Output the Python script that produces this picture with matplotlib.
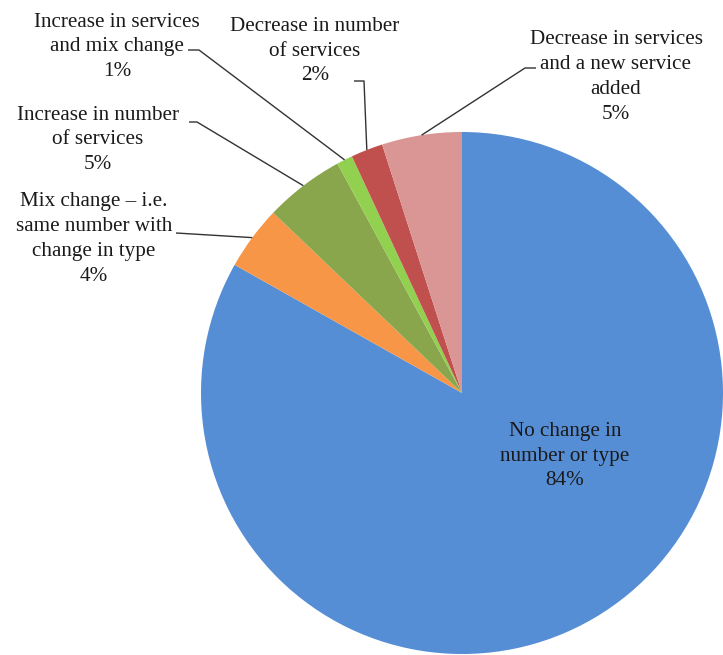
import numpy as np
import matplotlib
matplotlib.use("Agg")
import matplotlib.pyplot as plt

# Share of services by type of change (%)
categories = [
    "No change in\nnumber or type",
    "Mix change \u2013 i.e.\nsame number with\nchange in type",
    "Increase in number\nof services",
    "Increase in services\nand mix change",
    "Decrease in number\nof services",
    "Decrease in services\nand a new service\nadded",
]
shares = [84, 4, 5, 1, 2, 5]
colors = ["#558ED5", "#F79646", "#8AA64C", "#92D050", "#C0504D", "#D99694"]

# label placement (pixel space, y measured from the top) and the elbow of each leader
label_pos = [(565, 456), (94, 239), (98, 140), (117, 47), (315, 51), (616, 77)]
elbows = [None, [(176, 233)], [(189, 122), (197, 122)],
          [(188, 50), (199, 50)], [(354, 81), (364, 81)], [(536, 68), (525, 68)]]

W, H = 723, 655
fig = plt.figure(figsize=(W / 100, H / 100), dpi=100)
ax = fig.add_axes([0, 0, 1, 1])

cx, cy, r = 462, H - 393, 261
wedges, _ = ax.pie(shares, colors=colors, startangle=90, counterclock=False,
                   center=(cx, cy), radius=r, frame=True,
                   wedgeprops=dict(linewidth=0))
ax.set_xlim(0, W)
ax.set_ylim(0, H)
ax.set_aspect("equal")
ax.axis("off")

font = dict(family=["Liberation Serif", "DejaVu Serif"], size=15.2, color="#1a1a1a")
for w, name, v, (tx, ty), el in zip(wedges, categories, shares, label_pos, elbows):
    ax.text(tx, H - ty, f"{name}\n{v}%", ha="center", va="center",
            linespacing=1.42, **font)
    if el is None:
        continue
    mid = np.deg2rad((w.theta1 + w.theta2) / 2)
    end = (cx + r * np.cos(mid), cy + r * np.sin(mid))
    xs = [p[0] for p in el] + [end[0]]
    ys = [H - p[1] for p in el] + [end[1]]
    ax.plot(xs, ys, color="#333333", lw=1.0, solid_capstyle="butt")

fig.savefig("out.png", dpi=100)
